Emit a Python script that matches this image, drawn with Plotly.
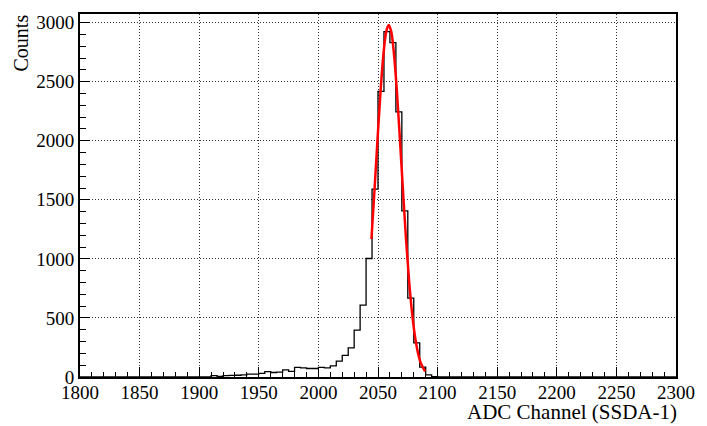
import plotly.graph_objects as go

# ---- data ----
bin_start = 1800
bin_width = 5
counts = (
    [0] * 22 +
    [12, 6, 12, 14, 15, 18, 24, 25, 30, 45,          # 1910-1955
     38, 42, 60, 48, 82, 78, 72, 72, 82, 78,         # 1960-2005
     95, 135, 183, 247, 396, 609, 1003, 1590, 2418, 2924,  # 2010-2055
     2831, 2244, 1407, 668, 289, 84, 18, 3] +        # 2060-2095
    [0] * 40
)
fit_x = [2044.5, 2047, 2049.5, 2052, 2054.5, 2057, 2059, 2061, 2063.5, 2066,
         2068.5, 2071, 2073.5, 2076, 2078.5, 2081, 2083.5, 2086, 2089.5]
fit_y = [1168, 1570, 1995, 2396, 2723, 2928, 2980, 2928, 2723, 2396,
         1995, 1570, 1168, 824, 549, 346, 206, 116, 47]
x_ticks = [1800, 1850, 1900, 1950, 2000, 2050, 2100, 2150, 2200, 2250, 2300]
y_ticks = [0, 500, 1000, 1500, 2000, 2500, 3000]

edges = [bin_start + bin_width * i for i in range(len(counts) + 1)]
hx = edges
hy = counts + [counts[-1]]

FONT = "Times New Roman, Liberation Serif, serif"

fig = go.Figure()
fig.add_trace(go.Scatter(x=hx, y=hy, mode="lines", line=dict(color="black", width=1.3, shape="hv"),
                         hoverinfo="skip", showlegend=False))
fig.add_trace(go.Scatter(x=fit_x, y=fit_y, mode="lines", line=dict(color="red", width=2.5, shape="spline"),
                         hoverinfo="skip", showlegend=False))

axis_common = dict(
    showline=True, linecolor="black", linewidth=2, mirror=True,
    ticks="inside", ticklen=10, tickcolor="black", tickwidth=1,
    showgrid=True, gridcolor="#333333", griddash="1px,2px", gridwidth=1,
    zeroline=False,
    tickfont=dict(family=FONT, size=19, color="black"),
)

fig.update_xaxes(range=[1800, 2300], tickvals=x_ticks, ticktext=[str(v) for v in x_ticks],
                 minor=dict(dtick=10, ticklen=5, ticks="inside", tickcolor="black", showgrid=False),
                 ticklabelstandoff=-3,
                 **axis_common)
fig.update_yaxes(range=[0, 3073], tickvals=y_ticks, ticktext=[str(v) for v in y_ticks],
                 minor=dict(dtick=100, ticklen=6, ticks="inside", tickcolor="black", showgrid=False),
                 **axis_common)

fig.add_annotation(text="ADC Channel (SSDA-1)", xref="paper", yref="paper", x=1, y=0,
                   xanchor="right", yanchor="middle", xshift=3, yshift=-35, showarrow=False,
                   font=dict(family=FONT, size=21, color="black"))
fig.add_annotation(text="Counts", xref="paper", yref="paper", x=0, y=1,
                   xanchor="center", yanchor="top", xshift=-60, yshift=1, textangle=-90,
                   showarrow=False, font=dict(family=FONT, size=20, color="black"))

fig.update_layout(
    width=707, height=426,
    margin=dict(l=80, r=22, t=12, b=49),
    paper_bgcolor="white", plot_bgcolor="white",
    showlegend=False,
    font=dict(family=FONT),
)

fig.write_html("out.html")
